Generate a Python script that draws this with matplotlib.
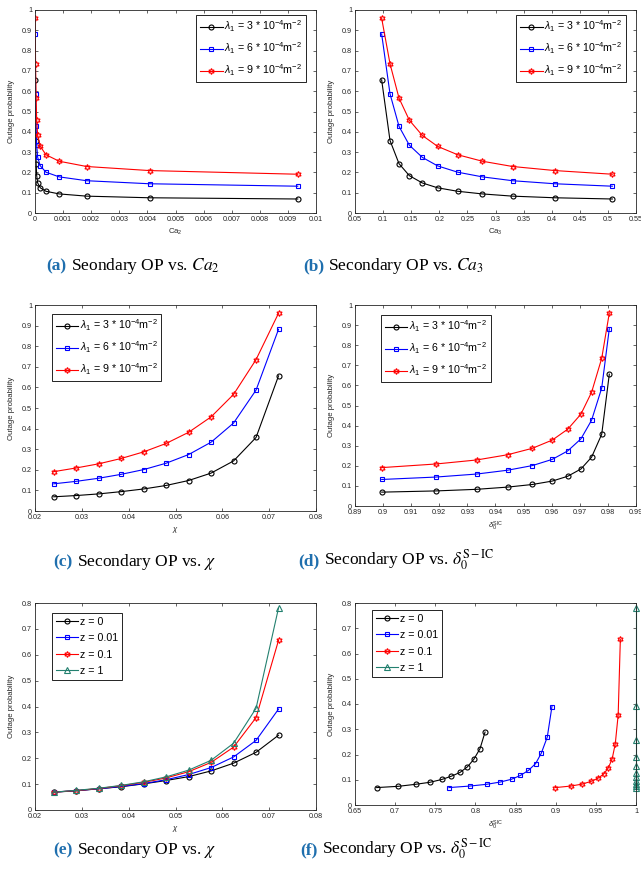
import matplotlib
matplotlib.use('Agg')
import matplotlib.pyplot as plt
from matplotlib.ticker import FuncFormatter
import numpy as np

# x-axis values (same ordering for all series: outage probability increasing)
chi = [0.024, 0.0288, 0.0336, 0.0384, 0.0432, 0.048, 0.0528, 0.0576, 0.0624, 0.0672, 0.072]
ca2 = [0.00935, 0.00408, 0.00184, 0.00086, 0.00039, 0.00019, 0.000095, 0.00006, 0.00004, 0.00002, 0.000005]
ca3 = [0.5079, 0.4059, 0.3305, 0.2766, 0.2327, 0.1971, 0.1698, 0.1467, 0.1283, 0.1123, 0.0974]
delta = [0.8995, 0.9188, 0.9333, 0.9443, 0.9531, 0.9602, 0.9657, 0.9704, 0.9742, 0.9778, 0.9805]

# outage probability for lambda_1 = 3, 6, 9 * 10^-4
op_l3 = [0.069, 0.075, 0.083, 0.094, 0.107, 0.124, 0.148, 0.184, 0.243, 0.357, 0.656]
op_l6 = [0.132, 0.144, 0.159, 0.178, 0.201, 0.232, 0.274, 0.334, 0.427, 0.587, 0.882]
op_l9 = [0.191, 0.209, 0.229, 0.255, 0.287, 0.328, 0.382, 0.457, 0.566, 0.735, 0.960]

# outage probability for z = 0, 0.01, 0.1, 1
op_z0 = [0.069, 0.074, 0.082, 0.090, 0.101, 0.114, 0.129, 0.151, 0.181, 0.223, 0.289]
op_z001 = [0.069, 0.075, 0.082, 0.091, 0.102, 0.117, 0.137, 0.164, 0.205, 0.269, 0.390]
op_z01 = [0.069, 0.075, 0.083, 0.094, 0.107, 0.124, 0.148, 0.184, 0.243, 0.357, 0.656]
op_z1 = [0.069, 0.076, 0.084, 0.095, 0.109, 0.128, 0.154, 0.192, 0.258, 0.393, 0.781]

# delta_0^SIC for each z
delta_z0 = [0.677, 0.704, 0.7256, 0.7434, 0.758, 0.770, 0.7808, 0.790, 0.798, 0.8057, 0.812]
delta_z001 = [0.767, 0.793, 0.814, 0.831, 0.845, 0.856, 0.866, 0.875, 0.882, 0.8895, 0.8953]
delta_z01 = delta
delta_z1 = [1.0] * 11

lam_labels = [r'$\lambda_1$ = 3 * 10$^{-4}$m$^{-2}$',
              r'$\lambda_1$ = 6 * 10$^{-4}$m$^{-2}$',
              r'$\lambda_1$ = 9 * 10$^{-4}$m$^{-2}$']
z_labels = ['z = 0', 'z = 0.01', 'z = 0.1', 'z = 1']

plt.rcParams['font.family'] = ['Liberation Sans', 'DejaVu Sans']
plt.rcParams['mathtext.fontset'] = 'custom'
plt.rcParams['mathtext.rm'] = 'Liberation Sans'
plt.rcParams['mathtext.it'] = 'Liberation Sans:italic'
plt.rcParams['mathtext.bf'] = 'Liberation Sans:bold'

GREEN = '#23806f'
styles = [dict(color='k', marker='o', ms=3.6),
          dict(color='#0000ff', marker='s', ms=3.4),
          dict(color='#ff0000', marker=(6, 1, 0), ms=4.3),
          dict(color=GREEN, marker='^', ms=3.9)]
TICK_FS = 5.2
LEG_FS = 7.7
W, H = 641, 873

fig = plt.figure(figsize=(W / 100, H / 100), dpi=100)


def px_axes(left, top, right, bottom):
    return fig.add_axes([left / W, 1 - bottom / H, (right - left) / W, (bottom - top) / H])


fmt = FuncFormatter(lambda v, p: f'{v:.4g}' if abs(v) > 1e-12 else '0')


def style_axes(ax, xlim, xticks, ylim, yticks, xlabel):
    ax.set_xlim(*xlim)
    ax.set_ylim(*ylim)
    ax.set_xticks(xticks)
    ax.set_yticks(yticks)
    ax.xaxis.set_major_formatter(fmt)
    ax.yaxis.set_major_formatter(fmt)
    ax.tick_params(direction='in', top=True, right=True, length=2.5, width=0.5,
                   labelsize=TICK_FS, colors='#262626', pad=2)
    for s in ax.spines.values():
        s.set_linewidth(0.6)
        s.set_color('#262626')
    ax.set_ylabel('Outage probability', fontsize=5.6, color='#262626')
    ax.yaxis.set_label_coords(-0.072, 0.5)
    ax.set_xlabel(xlabel, fontsize=5.6, color='#262626', labelpad=3)


def plot_series(ax, xs, ys, labels, clip_last=False):
    for i, (x, y, lab) in enumerate(zip(xs, ys, labels)):
        st = styles[i]
        ln, = ax.plot(x, y, color=st['color'], marker=st['marker'], markersize=st['ms'],
                      markerfacecolor='none', markeredgewidth=0.8, linewidth=0.8, label=lab)
        if clip_last and i == len(xs) - 1:
            ln.set_clip_on(False)


def legend(ax, loc, anchor):
    lg = ax.legend(loc=loc, bbox_to_anchor=anchor, borderaxespad=0, fontsize=LEG_FS,
                   fancybox=False, framealpha=1, edgecolor='k', handlelength=2.1,
                   handletextpad=0.15, borderpad=0.35, labelspacing=0.6)
    lg.get_frame().set_linewidth(0.6)


yt1 = np.round(np.arange(0, 1.01, 0.1), 2)
yt08 = np.round(np.arange(0, 0.81, 0.1), 2)

# (a)
ax = px_axes(35, 10, 316, 213)
plot_series(ax, [ca2] * 3, [op_l3, op_l6, op_l9], lam_labels)
style_axes(ax, (0, 0.01), np.round(np.arange(0, 0.0101, 0.001), 3), (0, 1), yt1, r'Ca$_2$')
legend(ax, 'upper right', (0.964, 0.975))

# (b)
ax = px_axes(355, 10, 636, 213)
plot_series(ax, [ca3] * 3, [op_l3, op_l6, op_l9], lam_labels)
style_axes(ax, (0.05, 0.55), np.round(np.arange(0.05, 0.551, 0.05), 2), (0, 1), yt1, r'Ca$_3$')
legend(ax, 'upper right', (0.964, 0.975))

# (c)
ax = px_axes(35, 305, 316, 511)
plot_series(ax, [chi] * 3, [op_l3, op_l6, op_l9], lam_labels)
style_axes(ax, (0.02, 0.08), np.round(np.arange(0.02, 0.081, 0.01), 2), (0, 1), yt1, r'$\chi$')
legend(ax, 'upper left', (0.06, 0.957))

# (d)
ax = px_axes(355, 305, 636, 506)
plot_series(ax, [delta] * 3, [op_l3, op_l6, op_l9], lam_labels)
style_axes(ax, (0.89, 0.99), np.round(np.arange(0.89, 0.991, 0.01), 2), (0, 1), yt1,
           r'$\delta_0^{\mathrm{SIC}}$')
legend(ax, 'upper left', (0.0925, 0.95))

# (e)
ax = px_axes(35, 603, 316, 810)
plot_series(ax, [chi] * 4, [op_z0, op_z001, op_z01, op_z1], z_labels)
style_axes(ax, (0.02, 0.08), np.round(np.arange(0.02, 0.081, 0.01), 2), (0, 0.8), yt08, r'$\chi$')
legend(ax, 'upper left', (0.06, 0.952))

# (f)
ax = px_axes(355, 603, 636, 805)
plot_series(ax, [delta_z0, delta_z001, delta_z01, delta_z1], [op_z0, op_z001, op_z01, op_z1],
            z_labels, clip_last=True)
style_axes(ax, (0.65, 1.0), np.round(np.arange(0.65, 1.001, 0.05), 2), (0, 0.8), yt08,
           r'$\delta_0^{\mathrm{SIC}}$')
legend(ax, 'upper left', (0.06, 0.965))

# captions
CAP_BLUE = '#1f6fae'
CAP_FS = 12.5
captions = [
    (46, 71, 270, '(a)', r'Seondary OP vs. $Ca_2$'),
    (303, 328, 270, '(b)', r'Secondary OP vs. $Ca_3$'),
    (53, 77, 566, '(c)', r'Secondary OP vs. $\chi$'),
    (298, 324, 565, '(d)', r'Secondary OP vs. $\delta_0^{\mathrm{S-IC}}$'),
    (53, 77, 854, '(e)', r'Secondary OP vs. $\chi$'),
    (300, 322, 854, '(f)', r'Secondary OP vs. $\delta_0^{\mathrm{S-IC}}$'),
]
for x1, x2, yb, tag, txt in captions:
    fig.text(x1 / W, 1 - yb / H, tag, family='Liberation Serif', weight='bold', color=CAP_BLUE,
             fontsize=CAP_FS, va='baseline', ha='left', math_fontfamily='stix')
    fig.text(x2 / W, 1 - yb / H, txt, family='Liberation Serif', color='k',
             fontsize=CAP_FS, va='baseline', ha='left', math_fontfamily='stix')

fig.savefig('out.png', dpi=100)
